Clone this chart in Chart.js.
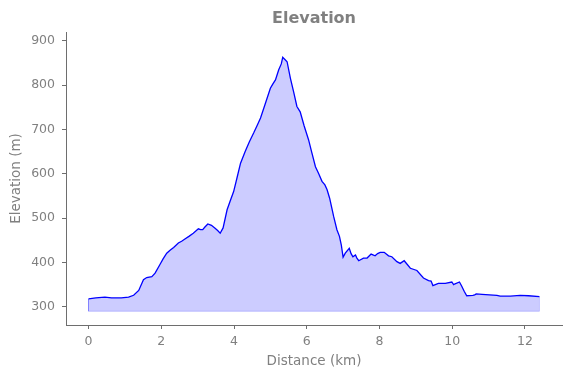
<!DOCTYPE html>
<html>
<head>
<meta charset="utf-8">
<script src="https://cdn.jsdelivr.net/npm/chart.js@4/dist/chart.umd.min.js"></script>
<style>
  html, body { margin: 0; padding: 0; background: #fff; }
</style>
</head>
<body>
<canvas id="elevation" width="571" height="378"></canvas>
<script>
// distance along the track (km) and elevation (m)
var distanceKm = [0, 0.2, 0.45, 0.63, 0.9, 1.1, 1.24, 1.38, 1.51, 1.6, 1.74, 1.83, 1.96, 2.05, 2.15,
    2.25, 2.34, 2.47, 2.56, 2.65, 2.76, 2.88, 3.02, 3.08, 3.14, 3.2, 3.28, 3.38, 3.48, 3.55,
    3.62, 3.7, 3.81, 3.9, 3.99, 4.08, 4.18, 4.31, 4.42, 4.54, 4.63, 4.73, 4.86, 5.0, 5.07,
    5.14, 5.23, 5.3, 5.34, 5.4, 5.46, 5.55, 5.64, 5.73, 5.82, 5.93, 6.05, 6.14, 6.24, 6.33,
    6.42, 6.5, 6.56, 6.63, 6.74, 6.83, 6.9, 6.95, 7.0, 7.06, 7.17, 7.22, 7.27, 7.34, 7.38,
    7.43, 7.56, 7.66, 7.77, 7.88, 7.95, 8.02, 8.13, 8.25, 8.34, 8.48, 8.57, 8.68, 8.85, 9.03,
    9.21, 9.35, 9.42, 9.47, 9.62, 9.81, 9.99, 10.04, 10.08, 10.2, 10.26, 10.33, 10.4, 10.57, 10.62,
    10.66, 10.82, 11.23, 11.32, 11.6, 11.87, 12.1, 12.4];
var elevationM = [318, 320, 322, 320, 320, 322, 326, 337, 361, 366, 368, 376, 395, 408, 421,
    428, 434, 444, 448, 453, 459, 466, 476, 474, 474, 480, 487, 484, 477, 472,
    466, 478, 519, 540, 560, 590, 624, 651, 672, 692, 708, 726, 758, 793, 803,
    812, 835, 848, 863, 858, 853, 816, 785, 752, 740, 708, 677, 648, 616, 600,
    583, 575, 564, 545, 504, 474, 459, 440, 412, 421, 432, 420, 413, 417, 410,
    404, 410, 410, 419, 415, 420, 423, 423, 415, 413, 402, 398, 404, 387, 382,
    365, 359, 358, 348, 353, 353, 356, 350, 352, 356, 347, 335, 325, 326, 327,
    329, 328, 326, 324, 324, 326, 325, 323];
var baseElevation = 290;

var grey = '#808080';
var axisGrey = '#6e6e6e';
var font = 'DejaVu Sans';

var profile = distanceKm.map(function (d, i) { return { x: d, y: elevationM[i] }; });
var last = distanceKm.length - 1;
var outline = [
    { x: distanceKm[0], y: elevationM[0] },
    { x: distanceKm[0], y: baseElevation },
    { x: distanceKm[last], y: baseElevation },
    { x: distanceKm[last], y: elevationM[last] }
];

var ctx = document.getElementById('elevation').getContext('2d');
var chart = new Chart(ctx, {
    type: 'line',
    data: {
        datasets: [
            {
                label: 'Elevation',
                data: profile,
                borderColor: '#0000ff',
                borderWidth: 1.3,
                backgroundColor: 'rgba(0, 0, 255, 0.2)',
                fill: { value: baseElevation },
                pointRadius: 0,
                tension: 0
            },
            {
                label: 'base',
                data: outline,
                borderColor: 'rgba(0, 0, 255, 0.2)',
                borderWidth: 1,
                fill: false,
                pointRadius: 0,
                tension: 0
            }
        ]
    },
    options: {
        responsive: false,
        animation: { duration: 0 },
        layout: { padding: { right: 9 } },
        plugins: {
            legend: { display: false },
            tooltip: { enabled: false },
            title: {
                display: true,
                fullSize: false,
                text: 'Elevation',
                color: grey,
                font: { family: font, size: 16, weight: 'bold' },
                padding: { top: 9, bottom: 3.8 }
            }
        },
        scales: {
            x: {
                type: 'linear',
                min: -0.62,
                max: 13.02,
                afterFit: function (s) { s.height = 53; },
                grid: { drawOnChartArea: false, drawTicks: true, tickLength: 4, color: axisGrey },
                border: { display: true, color: axisGrey, width: 1 },
                ticks: {
                    stepSize: 2,
                    includeBounds: false,
                    color: grey,
                    padding: 5,
                    maxRotation: 0,
                    font: { family: font, size: 12.5 }
                },
                title: {
                    display: true,
                    text: 'Distance (km)',
                    color: grey,
                    font: { family: font, size: 13.5 },
                    padding: { top: 8, bottom: 8 }
                }
            },
            y: {
                min: 259,
                max: 920,
                afterFit: function (s) { s.width = 66; },
                grid: { drawOnChartArea: false, drawTicks: true, tickLength: 4, color: axisGrey },
                border: { display: true, color: axisGrey, width: 1 },
                ticks: {
                    stepSize: 100,
                    includeBounds: false,
                    color: grey,
                    padding: 7,
                    font: { family: font, size: 12.5 }
                },
                title: {
                    display: true,
                    text: 'Elevation (m)',
                    color: grey,
                    font: { family: font, size: 13.5 },
                    padding: { top: 8, bottom: 8 }
                }
            }
        }
    }
});
</script>
</body>
</html>
